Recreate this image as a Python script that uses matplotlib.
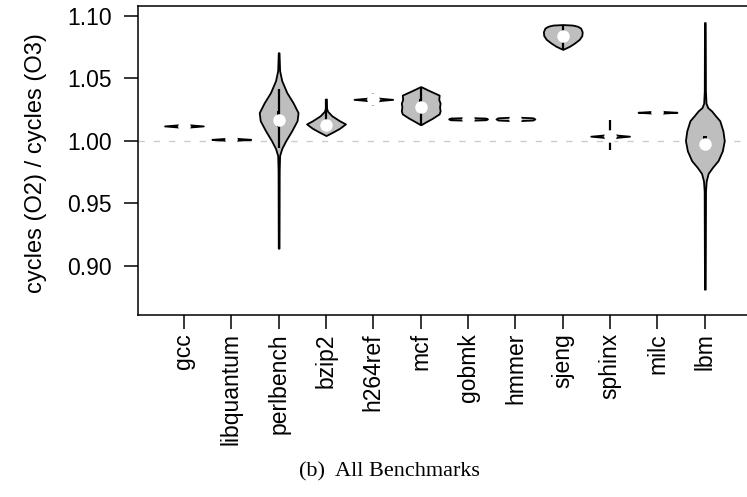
import matplotlib
matplotlib.use("Agg")
import matplotlib.pyplot as plt
import numpy as np

# benchmarks and summary values
benchmarks = ["gcc", "libquantum", "perlbench", "bzip2", "h264ref", "mcf",
              "gobmk", "hmmer", "sjeng", "sphinx", "milc", "lbm"]
medians = [1.0119, 1.0012, 1.0169, 1.0130, 1.0331, 1.0268,
           1.0175, 1.0175, 1.0838, 1.0037, 1.0228, 0.9976]
box_lo = [1.0110, 1.0005, 1.0110, 1.0115, 1.0320, 1.0220,
          1.0172, 1.0172, 1.0810, 1.0025, 1.0222, 0.9925]
box_hi = [1.0128, 1.0019, 1.0235, 1.0160, 1.0342, 1.0334,
          1.0178, 1.0178, 1.0870, 1.0049, 1.0234, 1.0035]
whisk_lo = [1.0100, 0.9995, 0.9945, 1.0095, 1.0282, 1.0129,
            1.0170, 1.0170, 1.0732, 0.9930, 1.0215, 0.9925]
whisk_hi = [1.0138, 1.0029, 1.0416, 1.0334, 1.0378, 1.0432,
            1.0180, 1.0180, 1.0926, 1.0170, 1.0241, 1.0035]

# violin outlines: levels and relative half widths
shape_y = [
    [1.0091, 1.0103, 1.0111, 1.0119, 1.0127, 1.0135, 1.0147],
    [0.9988, 0.9998, 1.0005, 1.0012, 1.0019, 1.0026, 1.0036],
    [0.9143, 0.9764, 0.9883, 0.9939, 1.0002, 1.0082, 1.0161, 1.0225,
     1.0305, 1.0385, 1.0480, 1.0560, 1.0703],
    [1.0042, 1.0050, 1.0070, 1.0100, 1.0135, 1.0160, 1.0200, 1.0236,
     1.0260, 1.0334],
    [1.0301, 1.0313, 1.0322, 1.0331, 1.0340, 1.0349, 1.0361],
    [1.0129, 1.0150, 1.0180, 1.0215, 1.0240, 1.0270, 1.0300, 1.0330,
     1.0365, 1.0400, 1.0432],
    [1.0164, 1.0168, 1.0175, 1.0182, 1.0186],
    [1.0160, 1.0166, 1.0175, 1.0184, 1.0190],
    [1.0730, 1.0735, 1.0755, 1.0780, 1.0810, 1.0840, 1.0870, 1.0900,
     1.0915, 1.0924, 1.0928],
    [1.0005, 1.0018, 1.0028, 1.0037, 1.0046, 1.0056, 1.0069],
    [1.0206, 1.0216, 1.0222, 1.0228, 1.0234, 1.0240, 1.0250],
    [0.8816, 0.9600, 0.9680, 0.9740, 0.9790, 0.9842, 0.9920, 1.0002,
     1.0080, 1.0160, 1.0200, 1.0240, 1.0265, 1.0300, 1.0400, 1.0944],
]
shape_w = [
    [0, 0.1, 0.35, 1, 0.35, 0.1, 0],
    [0, 0.1, 0.35, 1, 0.35, 0.1, 0],
    [0.02, 0.03, 0.05, 0.16, 0.37, 0.68, 0.95, 1.0, 0.74, 0.42, 0.16,
     0.05, 0.02],
    [0, 0.1, 0.35, 0.7, 1.0, 0.7, 0.3, 0.08, 0.03, 0.02],
    [0, 0.1, 0.35, 1, 0.35, 0.1, 0],
    [0.02, 0.25, 0.6, 0.95, 1.0, 0.97, 1.0, 0.93, 0.95, 0.45, 0.02],
    [0, 0.9, 1, 0.9, 0],
    [0, 0.9, 1, 0.9, 0],
    [0, 0.08, 0.35, 0.6, 0.85, 0.98, 1.0, 0.92, 0.75, 0.5, 0],
    [0, 0.1, 0.35, 1, 0.35, 0.1, 0],
    [0, 0.1, 0.35, 1, 0.35, 0.1, 0],
    [0.02, 0.035, 0.07, 0.17, 0.40, 0.68, 0.9, 1.0, 0.93, 0.77, 0.55,
     0.34, 0.15, 0.06, 0.03, 0.02],
]

plt.rcParams["font.family"] = ["Liberation Sans", "DejaVu Sans"]

fig = plt.figure(figsize=(7.47, 4.97), dpi=100)
ax = fig.add_axes([138 / 747, 0.3662, 609 / 747, 0.6227])

half = 0.41
pos = np.arange(1, len(benchmarks) + 1)

ax.axhline(1.0, color="#cccccc", lw=1.0, dashes=(4.5, 6.5), zorder=1)

for i, x in enumerate(pos):
    ys = np.array(shape_y[i])
    ws = np.array(shape_w[i]) * half
    ax.fill_betweenx(ys, x - ws, x + ws, facecolor="#bebebe",
                     edgecolor="black", lw=1.3, zorder=2)
    ax.plot([x, x], [whisk_lo[i], whisk_hi[i]], color="black", lw=1.6,
            solid_capstyle="butt", zorder=3)
    ax.fill_between([x - 0.035, x + 0.035], box_lo[i], box_hi[i],
                    color="black", lw=0, zorder=3)

ax.plot(pos, medians, "o", color="white", ms=9, mec="white", mew=0,
        zorder=4)

ax.set_xlim(0.03, 12.89)
ax.set_ylim(0.861, 1.108)
ax.set_yticks([0.90, 0.95, 1.00, 1.05, 1.10])
ax.set_yticklabels(["0.90", "0.95", "1.00", "1.05", "1.10"])
ax.set_xticks(pos)
ax.set_xticklabels(benchmarks, rotation=90)
ax.tick_params(axis="both", direction="out", length=10, width=1.1,
               labelsize=16.5, color="black")
ax.tick_params(axis="y", pad=9)
ax.tick_params(axis="x", pad=3)
ax.set_ylabel("cycles (O2) / cycles (O3)", fontsize=17)
ax.yaxis.set_label_coords(-0.15, 0.49)

for side in ["left", "bottom", "top"]:
    ax.spines[side].set_linewidth(1.1)
ax.spines["right"].set_visible(False)

fig.text(0.522, 0.05, "(b)  All Benchmarks", ha="center", va="center",
         fontsize=16, family=["Liberation Serif", "DejaVu Serif"])

fig.savefig("out.png", dpi=100)
